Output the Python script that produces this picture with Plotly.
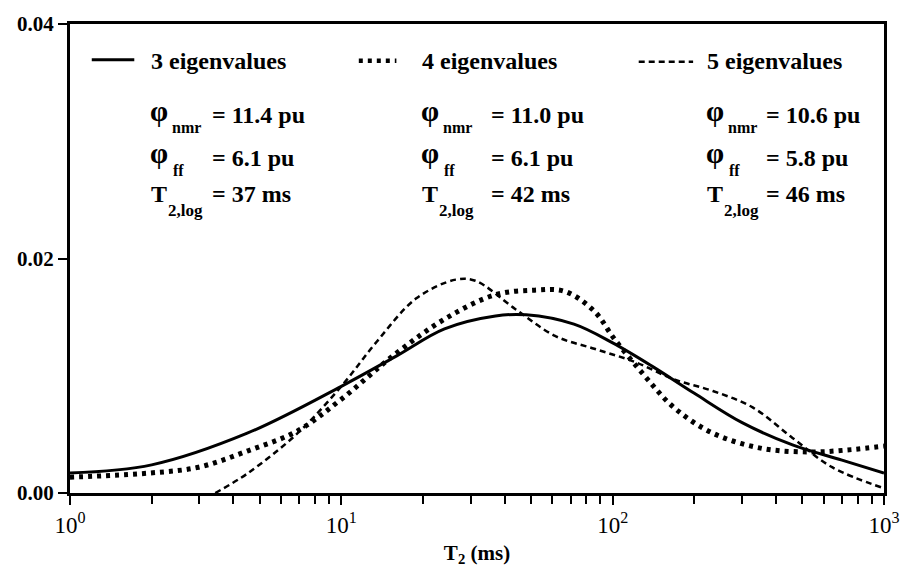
import plotly.graph_objects as go

# ---- data ----
t2_3 = [1, 2, 4.5, 10, 16, 24, 37, 48, 72, 100, 140, 200, 300, 460, 700, 1000]
amp_3 = [0.0017, 0.0024, 0.0051, 0.0091, 0.0117, 0.0140, 0.0151, 0.0152, 0.0144,
         0.0128, 0.0108, 0.0085, 0.0060, 0.0041, 0.0028, 0.0017]

t2_4 = [1, 1.96, 2.98, 4.53, 6.9, 10, 15.9, 24.3, 36.9, 51.6, 66.5, 85.6, 101,
        130, 168, 234, 356, 545, 757, 1000]
amp_4 = [0.00135, 0.0017, 0.0022, 0.0036, 0.0053, 0.0080, 0.0119, 0.0149, 0.0169,
         0.0173, 0.0172, 0.0155, 0.0132, 0.0101, 0.0073, 0.0051, 0.0038, 0.0035,
         0.0037, 0.0040]

t2_5 = [3.43, 4.53, 6.9, 10, 13.5, 18.9, 26.4, 31.2, 43.7, 61.3, 85.6, 120, 168,
        234, 328, 460, 644, 1000]
amp_5 = [0.0, 0.0017, 0.0051, 0.0091, 0.0129, 0.0166, 0.0182, 0.0181, 0.0157,
         0.0134, 0.0123, 0.0112, 0.0097, 0.0087, 0.0073, 0.0047, 0.0022, 0.0004]

series_names = ["3 eigenvalues", "4 eigenvalues", "5 eigenvalues"]
phi_nmr = ["11.4", "11.0", "10.6"]
phi_ff = ["6.1", "6.1", "5.8"]
t2log = ["37", "42", "46"]

x_tickvals = [1, 10, 100, 1000]
x_ticktext = ["10<sup>0</sup>", "10<sup>1</sup>", "10<sup>2</sup>", "10<sup>3</sup>"]
x_minor = [m * 10 ** e for e in range(3) for m in range(2, 10)]
y_tickvals = [0.0, 0.02, 0.04]
y_ticktext = ["<b>0.00</b>", "<b>0.02</b>", "<b>0.04</b>"]

FONT = "Liberation Serif"
styles = [
    dict(color="black", width=3, dash="solid"),
    dict(color="black", width=5, dash="4px,5px"),
    dict(color="black", width=2.5, dash="6px,4px"),
]

fig = go.Figure()
for (xs, ys), name, st in zip([(t2_3, amp_3), (t2_4, amp_4), (t2_5, amp_5)], series_names, styles):
    fig.add_trace(go.Scatter(x=xs, y=ys, mode="lines", name=name,
                             line=dict(shape="spline", smoothing=1.0, **st),
                             showlegend=False))

# ---- layout helpers (pixel -> paper) ----
W, H = 912, 573
L, R, T, B = 70, 19, 20, 80
pw, ph = W - L - R, H - T - B

def px(x):
    return (x - L) / pw

def py(y):
    return (H - B - y) / ph

def text(x, y, s, size, anchor="left"):
    fig.add_annotation(xref="paper", yref="paper", x=px(x), y=py(y),
                       xanchor=anchor, yanchor="middle", showarrow=False,
                       text=s, font=dict(family=FONT, size=size, color="black"))

# custom legend block (three columns)
col_x = [150, 424, 712]        # symbol / legend text left edge
eq_x = [212, 494, 772]         # "=" left edge
samples = [(92, 135, 56), (362, 400, 57), (645, 700, 58)]

for i in range(3):
    x0, x1, yy = samples[i]
    st = styles[i]
    fig.add_shape(type="line", xref="paper", yref="paper",
                  x0=px(x0), x1=px(x1), y0=py(yy), y1=py(yy),
                  line=dict(color="black", width=st["width"] if i != 1 else 4.5, dash=st["dash"]))
    text(col_x[i], 57, f"<b>{series_names[i]}</b>", 24)
    # phi nmr row
    text(col_x[i] - 1, 108, "<b>φ</b>", 29)
    text(col_x[i] + 21, 124, "<b>nmr</b>", 16)
    text(eq_x[i], 112, f"<b>= {phi_nmr[i]} pu</b>", 24)
    # phi ff row
    text(col_x[i] - 1, 150, "<b>φ</b>", 29)
    text(col_x[i] + 22, 168, "<b>ff</b>", 16)
    text(eq_x[i], 155, f"<b>= {phi_ff[i]} pu</b>", 24)
    # T2,log row
    text(col_x[i], 191, "<b>T</b>", 24)
    text(col_x[i] + 17, 208, "<b>2,log</b>", 17)
    text(eq_x[i], 191, f"<b>= {t2log[i]} ms</b>", 24)

fig.update_layout(
    width=W, height=H,
    margin=dict(l=L, r=R, t=T, b=B),
    paper_bgcolor="white", plot_bgcolor="white",
    font=dict(family=FONT, color="black"),
    showlegend=False,
)
fig.update_xaxes(
    type="log", range=[0, 3],
    tickvals=x_tickvals, ticktext=x_ticktext,
    ticks="outside", ticklen=9, tickwidth=2, tickcolor="black",
    minor=dict(tickvals=x_minor, ticks="outside", ticklen=8, tickwidth=2,
               tickcolor="black", showgrid=False),
    showline=True, linecolor="black", linewidth=3, mirror=True,
    showgrid=False, zeroline=False,
    tickfont=dict(family=FONT, size=23, color="black"),
    title=dict(text="<b>T<sub>2</sub> (ms)</b>", font=dict(family=FONT, size=21, color="black"), standoff=9),
)
fig.update_yaxes(
    range=[0, 0.04],
    tickvals=y_tickvals, ticktext=y_ticktext,
    ticks="outside", ticklen=9, tickwidth=2, tickcolor="black",
    showline=True, linecolor="black", linewidth=3, mirror=True,
    showgrid=False, zeroline=False,
    tickfont=dict(family=FONT, size=21, color="black"),
)

fig.write_html("out.html")
